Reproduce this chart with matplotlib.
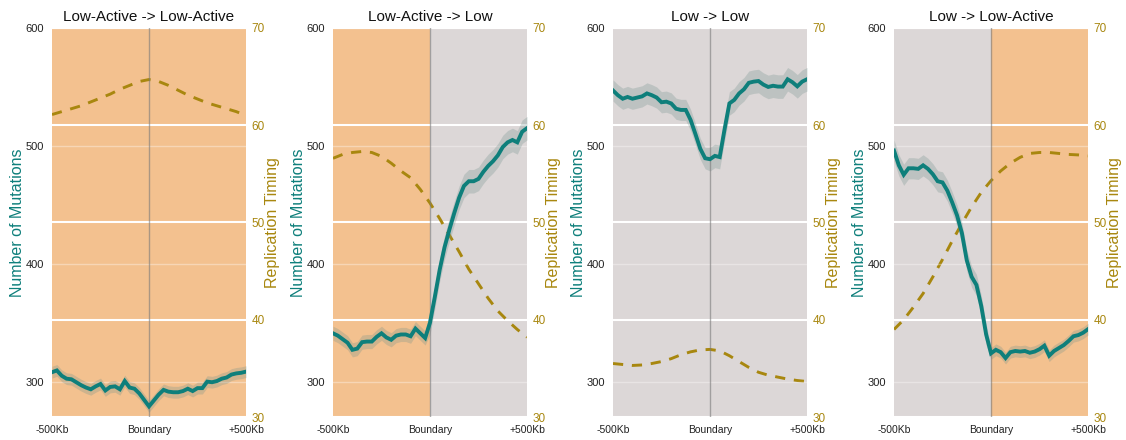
import numpy as np
import matplotlib.pyplot as plt

plt.rcParams['font.family'] = ['Liberation Sans', 'DejaVu Sans']

# positions relative to boundary (kb)
pos = np.arange(-500, 501, 25)
rt_pos = np.arange(-500, 501, 50)

titles = ['Low-Active -> Low-Active', 'Low-Active -> Low', 'Low -> Low', 'Low -> Low-Active']
# state on left / right of the boundary
left_state = ['Low-Active', 'Low-Active', 'Low', 'Low']
right_state = ['Low-Active', 'Low', 'Low', 'Low-Active']

mut1 = [308, 309.5, 305, 302.5, 302, 299.5, 297, 295, 293.5, 296, 298, 292.5, 295.5, 296,
        293.5, 300.5, 295, 294, 290, 284.5, 279, 284, 289, 293, 291.5, 291, 291, 292, 294,
        292, 294.5, 294.5, 300, 299.5, 300.5, 302.5, 303.5, 306, 307, 307.5, 308.5]
mut2 = [341, 339, 336, 333, 327, 328, 333.5, 334, 334, 338, 341, 337.5, 335.5, 339, 340,
        340, 338.5, 345, 341, 337, 350, 372, 395, 414, 429, 443, 456, 466, 470, 470, 472,
        478, 483, 487, 492, 499, 503, 505, 503, 512, 515]
mut3 = [547, 543, 540, 541.5, 540, 541, 542, 544.5, 543, 541, 537, 537.5, 536, 531.5, 530.5,
        530.5, 522, 510, 497.5, 489.5, 488.7, 491.5, 490.5, 514, 536, 539, 544.5, 548, 553.5,
        554.5, 555, 552, 550, 551, 550.3, 550.3, 556.5, 554, 550.5, 554.5, 556.5]
mut4 = [496, 483.5, 475.5, 481, 481, 480.5, 483.5, 480.5, 476, 470, 469, 462, 452, 441, 426,
        403, 389, 382, 364, 340, 324, 327, 325, 320, 325, 326, 325.5, 326, 324.5, 325.5,
        327.5, 330.5, 322, 326, 328.5, 331, 334.5, 338.5, 339.5, 341.5, 344.5]
mutations = [mut1, mut2, mut3, mut4]

# half width of the confidence band, left / right of boundary
band_left = [5, 6, 9, 9]
band_right = [5, 10, 10, 5]

rt1 = [61.1, 61.4, 61.7, 62.0, 62.4, 62.8, 63.2, 63.7, 64.1, 64.5, 64.7,
       64.5, 64.1, 63.6, 63.1, 62.7, 62.3, 62.0, 61.7, 61.4, 61.0]
rt2 = [56.6, 57.0, 57.2, 57.3, 57.2, 56.8, 56.1, 55.3, 54.6, 53.4, 52.0,
       50.4, 48.7, 47.0, 45.2, 43.7, 42.2, 40.9, 39.9, 39.0, 38.2]
rt3 = [35.5, 35.4, 35.3, 35.35, 35.5, 35.7, 36.0, 36.4, 36.7, 36.9, 36.95,
       36.8, 36.3, 35.7, 35.1, 34.6, 34.3, 34.1, 33.9, 33.75, 33.65]
rt4 = [39.0, 40.0, 41.3, 42.7, 44.4, 46.2, 48.1, 49.9, 51.6, 53.1, 54.3,
       55.3, 56.1, 56.7, 57.1, 57.2, 57.2, 57.1, 57.0, 56.95, 56.85]
timing = [rt1, rt2, rt3, rt4]

state_color = {'Low-Active': '#F3C18F', 'Low': '#DCD7D7'}
teal = '#0E7F7B'
gold = '#A8870F'

fig = plt.figure(figsize=(11.26, 4.4), dpi=100)
lefts = [52, 333, 613, 894]

for i in range(4):
    ax = fig.add_axes([lefts[i] / 1126, 23 / 440, 194 / 1126, 389 / 440])
    ax2 = ax.twinx()
    # left axis (mutations) drawn over right axis (timing)
    ax.set_zorder(ax2.get_zorder() + 1)
    ax.patch.set_visible(False)

    ax2.axvspan(-500, 0, color=state_color[left_state[i]], lw=0, zorder=0)
    ax2.axvspan(0, 500, color=state_color[right_state[i]], lw=0, zorder=0)
    ax2.set_ylim(30, 70)
    ax2.set_yticks([30, 40, 50, 60, 70])
    ax2.grid(axis='y', color='white', lw=1.5, zorder=1)
    ax2.set_axisbelow(True)
    ax2.plot(rt_pos, timing[i], color=gold, lw=2.1, ls=(0, (3.5, 3)), zorder=3)

    m = np.array(mutations[i])
    hw = np.where(pos < 0, band_left[i], band_right[i])
    ax.fill_between(pos, m - hw, m + hw, color='#6F8F8A', alpha=0.28, lw=0, zorder=2)
    ax.plot(pos, m, color=teal, lw=2.8, zorder=4, solid_joinstyle='miter')
    ax.axvline(0, color='#7A7A7A', lw=1.0, alpha=0.6, zorder=3)
    ax.set_ylim(270, 600)
    ax.set_xlim(-500, 500)
    ax.set_yticks([300, 400, 500, 600])
    ax.grid(axis='y', color='white', lw=1.0, alpha=0.35)
    ax.set_xticks([-500, 0, 500])
    ax.set_xticklabels(['-500Kb', 'Boundary', '+500Kb'])

    ax.tick_params(axis='y', length=0, labelsize=8, colors='#222222', pad=6)
    ax.tick_params(axis='x', length=0, labelsize=7.5, colors='#222222', pad=6)
    ax2.tick_params(axis='y', length=0, labelsize=8.5, colors=gold, pad=4)
    for a in (ax, ax2):
        for s in a.spines.values():
            s.set_visible(False)

    ax.set_ylabel('Number of Mutations', color=teal, fontsize=11.5)
    ax.yaxis.set_label_coords(-0.139, 0.5)
    ax2.set_ylabel('Replication Timing', color=gold, fontsize=11.5)
    ax2.yaxis.set_label_coords(1.098, 0.5)
    ax.set_title(titles[i], fontsize=11, pad=5, color='#111111')

fig.savefig('out.png', dpi=100)
